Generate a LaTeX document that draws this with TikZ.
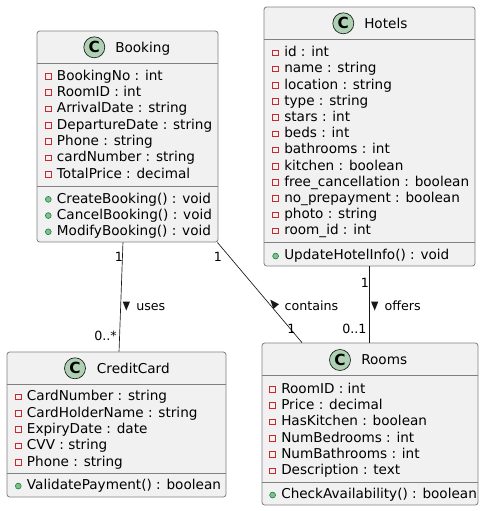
\documentclass[tikz,border=0pt]{standalone}
\usepackage{fontspec}
\setmainfont{DejaVu Sans}
\usepackage{tikz}
\definecolor{boxfill}{HTML}{F1F1F1}
\definecolor{boxline}{HTML}{181818}
\definecolor{spotfill}{HTML}{ADD1B2}
\definecolor{privred}{HTML}{C82930}
\definecolor{pubfill}{HTML}{84BE84}
\definecolor{publine}{HTML}{038048}
\tikzset{classbox/.style={draw=boxline!55, line width=0.6pt, fill=boxfill, rounded corners=2pt, inner sep=0pt}}
\tikzset{sepline/.style={draw=boxline!55, line width=0.6pt}}
\tikzset{spot/.style={circle, draw=boxline, line width=0.5pt, fill=spotfill, minimum size=15.75pt, inner sep=0pt, font=\fontsize{11.5}{12}\selectfont\bfseries}}
\tikzset{attr/.style={anchor=west, inner sep=0pt, font=\fontsize{10.2}{12}\selectfont, text height=9.3pt, text depth=1.85pt}}
\tikzset{privbox/.style={draw=privred, line width=0.6pt, minimum size=4.2pt, inner sep=0pt, xshift=-3.9pt, yshift=-0.8pt}}
\tikzset{pubdot/.style={circle, draw=publine, line width=0.4pt, fill=pubfill, minimum size=4.4pt, inner sep=0pt, xshift=-3.9pt, yshift=-0.8pt}}
\tikzset{priv/.style={attr, label={[privbox]left:{}}}}
\tikzset{pub/.style={attr, label={[pubdot]left:{}}}}
\tikzset{mult/.style={inner sep=0pt, font=\fontsize{9.5}{11}\selectfont}}
\tikzset{assoc/.style={draw=boxline, line width=0.5pt}}

\begin{document}
\begin{tikzpicture}[x=0.75pt, y=-0.75pt]
    \useasboundingbox (0,0) rectangle (484,511);
    % Booking
    \node [classbox, minimum width=135.75pt, minimum height=158.25pt] (booking) at (127.5,136.5) {};
    \node [spot] (bookingspot) at (94.3,47.3) {C};
    \node [attr] (bookingname) at (115,47.3) {Booking};
    \draw [sepline] (booking.west |- 0,63) -- (booking.east |- 0,63);
    \node [priv] (b1) at (56.7,75.3) {BookingNo : int};
    \node [priv] (b2) at (56.7,91.6) {RoomID : int};
    \node [priv] (b3) at (56.7,107.9) {ArrivalDate : string};
    \node [priv] (b4) at (56.7,124.2) {DepartureDate : string};
    \node [priv] (b5) at (56.7,140.5) {Phone : string};
    \node [priv] (b6) at (56.7,156.8) {cardNumber : string};
    \node [priv] (b7) at (56.7,173.1) {TotalPrice : decimal};
    \draw [sepline] (booking.west |- 0,186) -- (booking.east |- 0,186);
    \node [pub] (bm1) at (56.7,198.3) {CreateBooking() : void};
    \node [pub] (bm2) at (56.7,214.5) {CancelBooking() : void};
    \node [pub] (bm3) at (56.7,230.7) {ModifyBooking() : void};
    % Hotels
    \node [classbox, minimum width=158.25pt, minimum height=194.25pt] (hotels) at (369.5,136.5) {};
    \node [spot] (hotelsspot) at (343.3,23.3) {C};
    \node [attr] (hotelsname) at (364,23.3) {Hotels};
    \draw [sepline] (hotels.west |- 0,39) -- (hotels.east |- 0,39);
    \node [priv] (h1) at (284,51.7) {id : int};
    \node [priv] (h2) at (284,67.9) {name : string};
    \node [priv] (h3) at (284,84.1) {location : string};
    \node [priv] (h4) at (284,100.3) {type : string};
    \node [priv] (h5) at (284,116.5) {stars : int};
    \node [priv] (h6) at (284,132.7) {beds : int};
    \node [priv] (h7) at (284,148.9) {bathrooms : int};
    \node [priv] (h8) at (284,165.1) {kitchen : boolean};
    \node [priv] (h9) at (284,181.3) {free\_cancellation : boolean};
    \node [priv] (h10) at (284,197.5) {no\_prepayment : boolean};
    \node [priv] (h11) at (284,213.7) {photo : string};
    \node [priv] (h12) at (284,229.9) {room\_id : int};
    \draw [sepline] (hotels.west |- 0,242) -- (hotels.east |- 0,242);
    \node [pub] (hm1) at (284,255) {UpdateHotelInfo() : void};
    % CreditCard
    \node [classbox, minimum width=164.25pt, minimum height=108.75pt] (card) at (116.5,424.5) {};
    \node [spot] (cardspot) at (75,368.3) {C};
    \node [attr] (cardname) at (96.7,368.3) {CreditCard};
    \draw [sepline] (card.west |- 0,384) -- (card.east |- 0,384);
    \node [priv] (c1) at (26.7,396) {CardNumber : string};
    \node [priv] (c2) at (26.7,412.3) {CardHolderName : string};
    \node [priv] (c3) at (26.7,428.6) {ExpiryDate : date};
    \node [priv] (c4) at (26.7,444.9) {CVV : string};
    \node [priv] (c5) at (26.7,461.2) {Phone : string};
    \draw [sepline] (card.west |- 0,473) -- (card.east |- 0,473);
    \node [pub] (cm1) at (26.7,485) {ValidatePayment() : boolean};
    % Rooms
    \node [classbox, minimum width=162pt, minimum height=121.5pt] (rooms) at (370,424) {};
    \node [spot] (roomsspot) at (340,360) {C};
    \node [attr] (roomsname) at (361,360) {Rooms};
    \draw [sepline] (rooms.west |- 0,375) -- (rooms.east |- 0,375);
    \node [priv] (r1) at (281,388.3) {RoomID : int};
    \node [priv] (r2) at (281,404.6) {Price : decimal};
    \node [priv] (r3) at (281,420.9) {HasKitchen : boolean};
    \node [priv] (r4) at (281,437.2) {NumBedrooms : int};
    \node [priv] (r5) at (281,453.5) {NumBathrooms : int};
    \node [priv] (r6) at (281,469.8) {Description : text};
    \draw [sepline] (rooms.west |- 0,482) -- (rooms.east |- 0,482);
    \node [pub] (rm1) at (281,494) {CheckAvailability() : boolean};
    % associations
    \draw [assoc] ([xshift=-3.4pt]booking.south) -- ([xshift=1.9pt]card.north);
    \draw [assoc] ([xshift=-0.75pt]booking.south east) -- ([xshift=-51pt]rooms.north);
    \draw [assoc] (hotels.south) -- (hotels.south |- rooms.north);
    \node [mult, anchor=base] (m1) at (119,261.7) {1};
    \node [mult, anchor=base east] (m2) at (117,340.7) {0..*};
    \node [mult, anchor=base] (m3) at (218,261.7) {1};
    \node [mult, anchor=base] (m4) at (291.3,333.3) {1};
    \node [mult, anchor=base] (m5) at (365,287.3) {1};
    \node [mult, anchor=base east] (m6) at (366.7,333.3) {0..1};
    \fill [boxline] (122.7,301.5) -- (130,301.5) -- (126.3,310.5) -- cycle;
    \node [mult, anchor=base west] (uses) at (136,310) {uses};
    \fill [boxline] (270.3,299.7) -- (278.9,304.2) -- (273.3,309) -- cycle;
    \node [mult, anchor=base west] (contains) at (284.3,310) {contains};
    \fill [boxline] (371,301.5) -- (378.3,301.5) -- (374.7,310.5) -- cycle;
    \node [mult, anchor=base west] (offers) at (384.3,310) {offers};
\end{tikzpicture}
\end{document}
